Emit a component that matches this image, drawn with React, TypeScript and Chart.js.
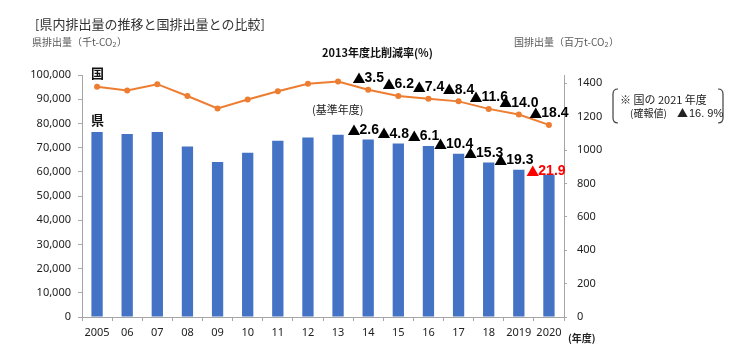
import React, { useEffect, useRef } from "react";
import { Chart, registerables } from "chart.js";

Chart.register(...registerables);

const categories = ["2005", "06", "07", "08", "09", "10", "11", "12", "13", "14", "15", "16", "17", "18", "2019", "2020"];
const prefEmissions = [76400, 75600, 76400, 70500, 64100, 67900, 72800, 74200, 75300, 73300, 71700, 70700, 67500, 63800, 60800, 58800];
const nationalEmissions = [1379, 1357, 1395, 1324, 1250, 1303, 1353, 1397, 1411, 1362, 1324, 1307, 1292, 1247, 1213, 1151];
const nationalRates = ["", "", "", "", "", "", "", "", "", "3.5", "6.2", "7.4", "8.4", "11.6", "14.0", "18.4"];
const prefRates = ["", "", "", "", "", "", "", "", "", "2.6", "4.8", "6.1", "10.4", "15.3", "19.3", "21.9"];
const leftTicksMax = 100000;
const rightTicksMax = 1450;
const rightTicks = [0, 200, 400, 600, 800, 1000, 1200, 1400];

const JP = "'Noto Sans CJK JP', sans-serif";
const NUM = "'Noto Sans', 'Noto Sans CJK JP', sans-serif";
const BOLDNUM = "'Liberation Sans', 'Noto Sans CJK JP', sans-serif";
const NARROW = "'Liberation Sans Narrow', 'Liberation Sans', sans-serif";
const AXIS = "#A6A6A6";

function drawUnit(ctx: CanvasRenderingContext2D, x: number, y: number, prefix: string) {
  ctx.save();
  ctx.textAlign = "left";
  ctx.textBaseline = "middle";
  ctx.fillStyle = "#595959";
  ctx.font = `10px ${JP}`;
  ctx.fillText(prefix, x, y);
  let w = ctx.measureText(prefix).width;
  ctx.font = `7px ${NUM}`;
  ctx.fillText("2", x + w, y + 3);
  w += ctx.measureText("2").width + 0.5;
  ctx.font = `10px ${JP}`;
  ctx.fillText("）", x + w, y);
  ctx.restore();
}

function drawRate(ctx: CanvasRenderingContext2D, cx: number, cy: number, num: string, color: string) {
  ctx.save();
  ctx.textAlign = "left";
  ctx.textBaseline = "middle";
  ctx.fillStyle = color;
  ctx.font = `13px ${JP}`;
  const tw = ctx.measureText("▲").width - 1;
  ctx.font = `bold 14px ${BOLDNUM}`;
  const nw = ctx.measureText(num).width;
  const x0 = cx - (tw + nw) / 2;
  ctx.font = `13px ${JP}`;
  ctx.fillText("▲", x0, cy);
  ctx.font = `bold 14px ${BOLDNUM}`;
  ctx.fillText(num, x0 + tw, cy + 0.5);
  ctx.restore();
}

const textPlugin = {
  id: "texts",
  afterDraw(chart: any) {
    const ctx: CanvasRenderingContext2D = chart.ctx;
    ctx.save();
    ctx.textBaseline = "middle";

    ctx.fillStyle = "#333333";
    ctx.textAlign = "left";
    ctx.font = `13px ${JP}`;
    ctx.fillText("[県内排出量の推移と国排出量との比較]", 35, 24);

    drawUnit(ctx, 32, 42, "県排出量（千t-CO");
    drawUnit(ctx, 514, 42, "国排出量（百万t-CO");

    ctx.fillStyle = "#111111";
    ctx.font = `bold 11px ${JP}`;
    ctx.fillText("2013年度比削減率(%)", 322, 53);

    ctx.font = `bold 13px ${JP}`;
    ctx.fillText("国", 91, 73);
    ctx.fillText("県", 91, 120);

    ctx.font = `11px ${JP}`;
    ctx.fillStyle = "#222222";
    ctx.fillText("(基準年度)", 312, 110);

    ctx.font = `bold 10px ${JP}`;
    ctx.fillText("(年度)", 568, 338);

    const lineMeta = chart.getDatasetMeta(1);
    const barMeta = chart.getDatasetMeta(0);
    nationalRates.forEach((r, i) => {
      if (!r) return;
      const p = lineMeta.data[i];
      drawRate(ctx, p.x, p.y - 12, r, "#000000");
    });
    prefRates.forEach((r, i) => {
      if (!r) return;
      const b = barMeta.data[i];
      const last = i === prefRates.length - 1;
      if (last) drawRate(ctx, b.x - 3, b.y - 4, r, "#FF0000");
      else drawRate(ctx, b.x - 5, b.y - 10, r, "#000000");
    });

    ctx.strokeStyle = "#404040";
    ctx.lineWidth = 1.2;
    ctx.beginPath();
    ctx.moveTo(618, 89);
    ctx.quadraticCurveTo(613, 89, 613, 94);
    ctx.lineTo(613, 118);
    ctx.quadraticCurveTo(613, 123, 618, 123);
    ctx.stroke();
    ctx.beginPath();
    ctx.moveTo(718, 89);
    ctx.quadraticCurveTo(723, 89, 723, 94);
    ctx.lineTo(723, 118);
    ctx.quadraticCurveTo(723, 123, 718, 123);
    ctx.stroke();

    ctx.textAlign = "left";
    ctx.fillStyle = "#222222";
    ctx.font = `11px ${JP}`;
    ctx.fillText("※ 国の 2021 年度", 620, 100);
    ctx.font = `10px ${JP}`;
    ctx.fillText("(確報値)", 630, 113);
    ctx.font = `11px ${JP}`;
    ctx.fillText("▲", 677, 113);
    ctx.font = `11px ${NARROW}`;
    ctx.fillText("16. 9%", 689, 113.5);

    ctx.restore();
  },
};

export default function App() {
  const ref = useRef<HTMLCanvasElement | null>(null);
  useEffect(() => {
    if (!ref.current) return;
    const chart = new Chart(ref.current, {
      type: "bar",
      data: {
        labels: categories,
        datasets: [
          {
            type: "bar",
            label: "県",
            data: prefEmissions,
            backgroundColor: "#4472C4",
            barPercentage: 0.375,
            categoryPercentage: 1,
            yAxisID: "y",
            order: 2,
          },
          {
            type: "line",
            label: "国",
            data: nationalEmissions,
            borderColor: "#ED7D31",
            backgroundColor: "#ED7D31",
            borderWidth: 2,
            pointRadius: 3,
            pointBorderWidth: 0,
            pointBackgroundColor: "#ED7D31",
            tension: 0,
            yAxisID: "y1",
            order: 1,
          } as any,
        ],
      },
      options: {
        responsive: false,
        animation: false,
        devicePixelRatio: 1,
        layout: { padding: { top: 75, left: 0, right: 0, bottom: 0 } },
        plugins: { legend: { display: false }, tooltip: { enabled: false }, title: { display: false } },
        scales: {
          x: {
            grid: { offset: true, drawOnChartArea: false, drawTicks: true, tickLength: 4, color: AXIS },
            border: { display: true, color: AXIS, width: 1 },
            ticks: { color: "#222222", font: { family: NUM, size: 11 }, padding: 5, maxRotation: 0, autoSkip: false },
            afterFit(scale: any) {
              scale.height = 44;
            },
          },
          y: {
            position: "left",
            min: 0,
            max: leftTicksMax,
            grid: { drawOnChartArea: false, drawTicks: true, tickLength: 4, color: AXIS },
            border: { display: true, color: AXIS, width: 1 },
            ticks: {
              stepSize: 10000,
              color: "#222222",
              font: { family: NUM, size: 11 },
              padding: 7,
              callback: (v: any) => Number(v).toLocaleString("en-US"),
            },
            afterFit(scale: any) {
              scale.width = 82;
            },
          },
          y1: {
            position: "right",
            min: 0,
            max: rightTicksMax,
            grid: { drawOnChartArea: false, drawTicks: true, tickLength: 3, color: AXIS },
            border: { display: true, color: AXIS, width: 1 },
            ticks: {
              color: "#222222",
              font: { family: NUM, size: 11 },
              padding: 10,
              autoSkip: false,
              callback: (v: any) => String(v),
            },
            afterBuildTicks(scale: any) {
              scale.ticks = rightTicks.map((v) => ({ value: v }));
            },
            afterFit(scale: any) {
              scale.width = 747 - 564;
            },
          },
        },
      },
      plugins: [textPlugin],
    });
    return () => chart.destroy();
  }, []);
  return (
    <div style={{ position: "fixed", left: 0, top: 0, width: 747, height: 361, background: "#ffffff" }}>
      <canvas ref={ref} width={747} height={361} style={{ display: "block" }} />
    </div>
  );
}
